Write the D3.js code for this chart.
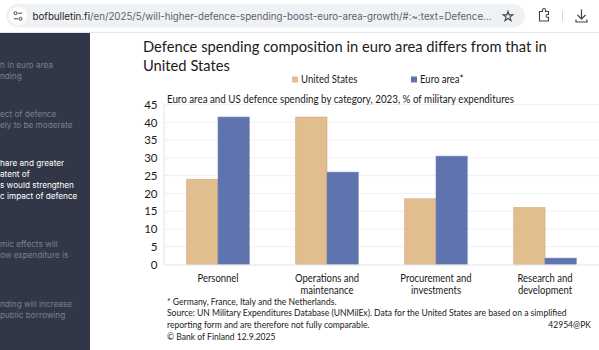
<!DOCTYPE html>
<html>
<head>
<meta charset="utf-8">
<script src="https://cdn.jsdelivr.net/npm/d3@7"></script>
<style>
  html, body { margin: 0; padding: 0; background: #fff; overflow: hidden; }
</style>
</head>
<body>
<div id="canvas"></div>
<script>
"use strict"

/* Chart data */
let categories = ["Personnel", "Operations and\nmaintenance", "Procurement and\ninvestments", "Research and\ndevelopment"];
let seriesNames = ["United States", "Euro area*"];
let usValues = [24, 41.5, 18.5, 16];
let euroValues = [41.5, 26, 30.5, 1.8];
let yTicks = [0, 5, 10, 15, 20, 25, 30, 35, 40, 45];
let seriesColors = ["#e2bd8d", "#5f74ae"];
let seriesEdges = ["#cdaa7e", "#7587ba"];

/* Page texts */
let urlHost = "bofbulletin.fi";
let urlPath = "/en/2025/5/will-higher-defence-spending-boost-euro-area-growth/#:~:text=Defence...";
let titleLines = ["Defence spending composition in euro area differs from that in", "United States"];
let subtitle = "Euro area and US defence spending by category, 2023, % of military expenditures";
let footLines = [
    "* Germany, France, Italy and the Netherlands.",
    "Source: UN Military Expenditures Database (UNMilEx). Data for the United States are based on a simplified",
    "reporting form and are therefore not fully comparable.",
    "© Bank of Finland 12.9.2025"
];
let chartCode = "42954@PK";
let sideLines = [
    { y: 68, text: "h in euro area", active: false },
    { y: 79, text: "nding", active: false },
    { y: 117, text: "ect of defence", active: false },
    { y: 128, text: "ely to be moderate", active: false },
    { y: 166, text: "hare and greater", active: true },
    { y: 177, text: "atent of", active: true },
    { y: 188, text: "s would strengthen", active: true },
    { y: 199, text: "c impact of defence", active: true },
    { y: 247, text: "mic effects will", active: false },
    { y: 258, text: "ow expenditure is", active: false },
    { y: 307, text: "nding will increase", active: false },
    { y: 318, text: "public borrowing", active: false }
];

/* Configuration variables: drawing */
let svgWidth = 599;
let svgHeight = 350;
let plotLeft = 163.5;
let plotRight = 599.5;
let plotTop = 104.6;
let plotBottom = 264.5;
let chartFont = "Lato, 'Open Sans', sans-serif";

let svg = d3.select("#canvas")
    .append("svg")
    .attr("width", svgWidth)
    .attr("height", svgHeight)
    .style("display", "block");

/* Lato runs wider than the font in the picture, so squeeze it a bit */
function condense(selection, k) {
    selection.each(function () {
        d3.select(this)
            .attr("textLength", this.getComputedTextLength() * k)
            .attr("lengthAdjust", "spacingAndGlyphs");
    });
}

svg.append("rect")
    .attr("width", svgWidth)
    .attr("height", svgHeight)
    .attr("fill", "#ffffff");

/* browser toolbar */
svg.append("rect")
    .attr("x", 6).attr("y", 4)
    .attr("width", 519).attr("height", 23.5)
    .attr("rx", 11.7)
    .attr("fill", "#eff2f4");

svg.append("line")
    .attr("x1", 0).attr("x2", svgWidth)
    .attr("y1", 32.5).attr("y2", 32.5)
    .attr("stroke", "#e3e5e7");

svg.append("circle")
    .attr("cx", 18).attr("cy", 16).attr("r", 9)
    .attr("fill", "#ffffff");

/* little tune icon in the address bar */
let tune = svg.append("g")
    .attr("fill", "none")
    .attr("stroke", "#3f4347")
    .attr("stroke-width", 1);
tune.append("circle").attr("cx", 15.5).attr("cy", 13.2).attr("r", 1.5);
tune.append("line").attr("x1", 18).attr("x2", 22).attr("y1", 13.2).attr("y2", 13.2);
tune.append("circle").attr("cx", 20.5).attr("cy", 18.8).attr("r", 1.5);
tune.append("line").attr("x1", 14).attr("x2", 18).attr("y1", 18.8).attr("y2", 18.8);

let urlText = svg.append("text")
    .attr("x", 32.5)
    .attr("y", 20)
    .attr("font-family", "Inter, Roboto, sans-serif")
    .attr("font-size", 10.2)
    .attr("fill", "#5d6167");
urlText.append("tspan").attr("fill", "#1f2124").text(urlHost);
urlText.append("tspan").text(urlPath);
urlText.attr("textLength", 459).attr("lengthAdjust", "spacingAndGlyphs");

/* star, extension and download icons */
svg.append("path")
    .attr("d", d3.symbol().type(d3.symbolStar).size(30)())
    .attr("transform", "translate(508,16.5)")
    .attr("fill", "none")
    .attr("stroke", "#3f4347")
    .attr("stroke-width", 1.1);

svg.append("path")
    .attr("d", "M539.5 11.5h3v-1.5a1.5 1.5 0 0 1 3 0v1.5h3v3h-1a1.4 1.4 0 0 0 0 2.8h1v3.7h-9z")
    .attr("fill", "none")
    .attr("stroke", "#3f4347")
    .attr("stroke-width", 1.1);

svg.append("line")
    .attr("x1", 562.5).attr("x2", 562.5)
    .attr("y1", 11).attr("y2", 21)
    .attr("stroke", "#cfd2d5");

svg.append("path")
    .attr("d", "M581.5 9.5v9M577.5 15l4 4 4-4M576 19.5v2.5h11v-2.5")
    .attr("fill", "none")
    .attr("stroke", "#3f4347")
    .attr("stroke-width", 1.2);

/* dark side navigation, cut off at the left edge */
svg.append("rect")
    .attr("x", 0).attr("y", 33)
    .attr("width", 90).attr("height", svgHeight - 33)
    .attr("fill", "#323747");

svg.selectAll(".side")
    .data(sideLines)
    .join("text")
    .attr("class", "side")
    .attr("x", 0)
    .attr("y", function (d) { return d.y; })
    .attr("font-family", "Inter, 'Open Sans', sans-serif")
    .attr("font-size", 8.2)
    .attr("fill", function (d) { return d.active ? "#ffffff" : "#7b7f8f"; })
    .text(function (d) { return d.text; });

/* title */
svg.selectAll(".title")
    .data(titleLines)
    .join("text")
    .attr("class", "title")
    .attr("x", 143)
    .attr("y", function (d, i) { return 52 + i * 19; })
    .attr("font-family", chartFont)
    .attr("font-size", 16)
    .attr("fill", "#1a1a1a")
    .text(function (d) { return d; })
    .call(condense, 0.92);

/* Define X and Y scales */
let xScale = d3.scaleBand()
    .domain(categories)
    .range([plotLeft, plotRight])
    .paddingInner(0.426)
    .paddingOuter(0.213);

let xSeries = d3.scaleBand()
    .domain(seriesNames)
    .range([0, xScale.bandwidth()]);

let yScale = d3.scaleLinear()
    .domain([0, 45])
    .range([plotBottom, plotTop]);

/* gridlines */
svg.selectAll(".grid")
    .data(yTicks.filter(function (d) { return d > 0; }))
    .join("line")
    .attr("class", "grid")
    .attr("x1", plotLeft)
    .attr("x2", plotRight)
    .attr("y1", function (d) { return yScale(d); })
    .attr("y2", function (d) { return yScale(d); })
    .attr("stroke", "#f0f0f0");

/* bars */
let seriesValues = [usValues, euroValues];
seriesNames.forEach(function (name, s) {
    svg.selectAll(".bar" + s)
        .data(seriesValues[s])
        .join("rect")
        .attr("class", "bar" + s)
        .attr("x", function (d, i) { return xScale(categories[i]) + xSeries(name); })
        .attr("y", function (d) { return yScale(d); })
        .attr("width", xSeries.bandwidth())
        .attr("height", function (d) { return plotBottom - yScale(d); })
        .attr("fill", seriesColors[s])
        .attr("stroke", seriesEdges[s])
        .attr("stroke-width", 0.6);
});

/* Y axis */
let yAxis = svg.append("g")
    .attr("transform", "translate(" + plotLeft + ",0)")
    .call(d3.axisLeft(yScale).tickValues(yTicks).tickSize(0).tickPadding(6));
yAxis.select(".domain").attr("stroke", "#e4e4e4");
yAxis.selectAll("text")
    .attr("font-family", chartFont)
    .attr("font-size", 11.5)
    .attr("fill", "#1a1a1a");

/* X axis, category labels go over two lines */
let xAxis = svg.append("g")
    .attr("transform", "translate(0," + plotBottom + ")")
    .call(d3.axisBottom(xScale).tickSize(0).tickFormat(""));
xAxis.select(".domain").attr("stroke", "#e4e4e4");
xAxis.selectAll(".tick text").each(function (d) {
    let label = d3.select(this)
        .attr("font-family", chartFont)
        .attr("font-size", 10.5)
        .attr("fill", "#1a1a1a")
        .attr("dy", 0);
    d.split("\n").forEach(function (line, i) {
        let part = label.append("tspan")
            .attr("x", 0)
            .attr("y", 17.5 + i * 12.2)
            .text(line);
        part.attr("textLength", part.node().getComputedTextLength() * 0.9)
            .attr("lengthAdjust", "spacingAndGlyphs");
    });
});

/* legend */
let legendX = [292, 411];
seriesNames.forEach(function (name, s) {
    svg.append("rect")
        .attr("x", legendX[s]).attr("y", 76.5)
        .attr("width", 6).attr("height", 6)
        .attr("fill", seriesColors[s]);
    svg.append("text")
        .attr("x", legendX[s] + 9)
        .attr("y", 83)
        .attr("font-family", chartFont)
        .attr("font-size", 10.5)
        .attr("fill", "#1a1a1a")
        .text(name)
        .call(condense, 0.91);
});

/* subtitle */
svg.append("text")
    .attr("x", 167)
    .attr("y", 102.5)
    .attr("font-family", chartFont)
    .attr("font-size", 10.5)
    .attr("fill", "#1a1a1a")
    .text(subtitle)
    .call(condense, 0.93);

/* footnotes */
svg.selectAll(".foot")
    .data(footLines)
    .join("text")
    .attr("class", "foot")
    .attr("x", 167)
    .attr("y", function (d, i) { return 304.5 + i * 11.7; })
    .attr("font-family", chartFont)
    .attr("font-size", 9)
    .attr("fill", "#1a1a1a")
    .text(function (d) { return d; })
    .call(condense, 0.95);

svg.append("text")
    .attr("x", 591)
    .attr("y", 328)
    .attr("text-anchor", "end")
    .attr("font-family", chartFont)
    .attr("font-size", 9)
    .attr("fill", "#1a1a1a")
    .text(chartCode)
    .call(condense, 0.95);
</script>
</body>
</html>
